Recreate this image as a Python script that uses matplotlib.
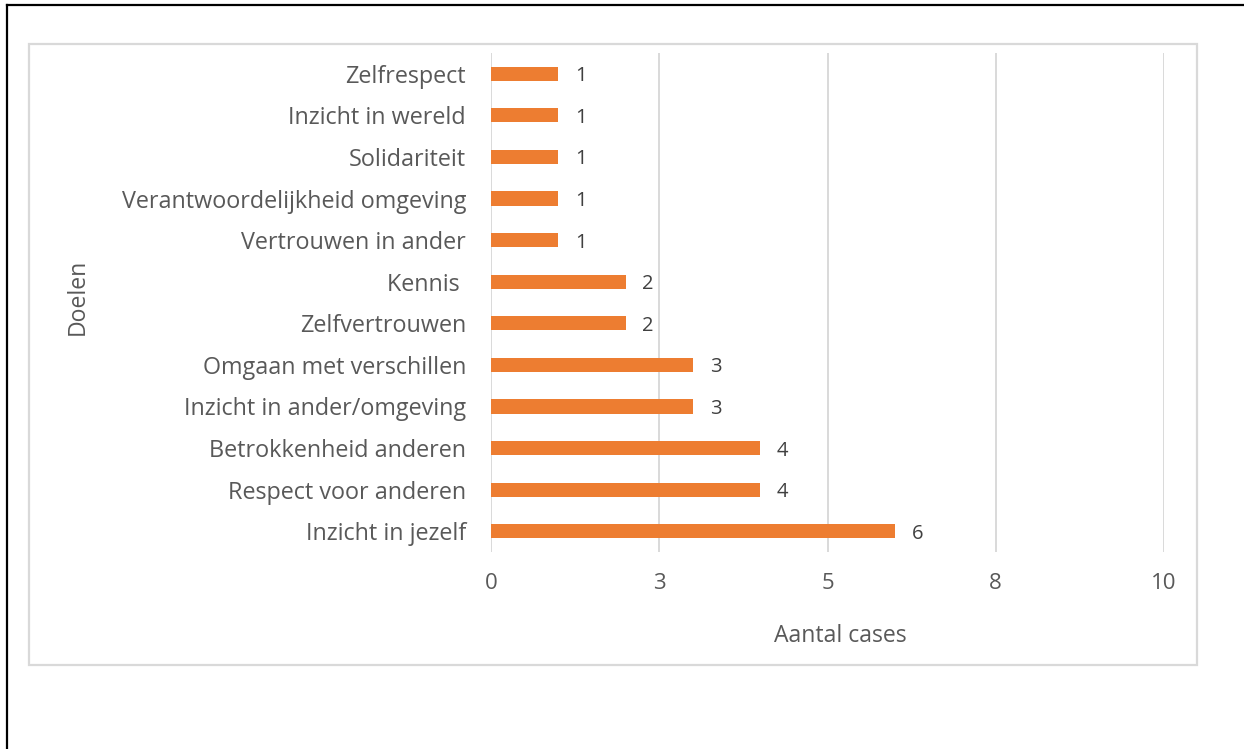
"""Horizontal bar chart: doelen per aantal cases."""

import matplotlib

matplotlib.use("Agg")

import matplotlib.pyplot as plt
from matplotlib.lines import Line2D
from matplotlib.patches import Rectangle
from matplotlib.ticker import FuncFormatter, MultipleLocator

# bottom to top, as drawn
CATEGORIES = [
    "Inzicht in jezelf",
    "Respect voor anderen",
    "Betrokkenheid anderen",
    "Inzicht in ander/omgeving",
    "Omgaan met verschillen",
    "Zelfvertrouwen",
    "Kennis ",
    "Vertrouwen in ander",
    "Verantwoordelijkheid omgeving",
    "Solidariteit",
    "Inzicht in wereld",
    "Zelfrespect",
]
VALUES = [6, 4, 4, 3, 3, 2, 2, 1, 1, 1, 1, 1]

BAR_COLOR = "#ED7D31"
TEXT_COLOR = "#595959"
LABEL_COLOR = "#404040"
GRID_COLOR = "#D9D9D9"
W, H = 1244, 749

plt.rcParams["font.family"] = ["Open Sans", "DejaVu Sans"]


def _round_half_up(x, _pos):
    return str(int(x + 0.5)) if x >= 0 else str(int(x - 0.5))


def main() -> None:
    fig = plt.figure(figsize=(W / 100, H / 100), dpi=100)
    ax = fig.add_axes([491 / W, 1 - 552 / H, (1164 - 491) / W, (552 - 53) / H])

    y = range(len(CATEGORIES))
    ax.barh(y, VALUES, height=0.34, color=BAR_COLOR, zorder=3)
    for yi, v in zip(y, VALUES):
        ax.annotate(str(v), (v, yi), xytext=(12, 0), textcoords="offset points",
                    va="center_baseline", ha="left", fontsize=14.5, color=LABEL_COLOR)

    ax.set_xlim(0, 10)
    ax.set_ylim(-0.5, len(CATEGORIES) - 0.5)
    ax.xaxis.set_major_locator(MultipleLocator(2.5))
    ax.xaxis.set_major_formatter(FuncFormatter(_round_half_up))
    ax.set_yticks(list(y))
    ax.set_yticklabels(CATEGORIES)
    ax.tick_params(axis="both", length=0, labelcolor=TEXT_COLOR)
    ax.tick_params(axis="x", pad=15, labelsize=16)
    ax.tick_params(axis="y", pad=18, labelsize=16.8)
    ax.grid(axis="x", color=GRID_COLOR, linewidth=1.4, zorder=0)
    for side in ax.spines.values():
        side.set_visible(False)

    fig.text(840 / W, 1 - 636 / H, "Aantal cases", ha="center", va="center",
             fontsize=16.6, color=TEXT_COLOR)
    fig.text(78 / W, 1 - 297 / H, "Doelen", ha="center", va="center",
             rotation=90, fontsize=16.6, color=TEXT_COLOR)

    # chart area border and page frame
    fig.add_artist(Rectangle((29 / W, 1 - 665 / H), (1197 - 29) / W, (665 - 44) / H,
                             transform=fig.transFigure, fill=False,
                             edgecolor=GRID_COLOR, linewidth=1.6))
    fig.add_artist(Line2D([7 / W, 7 / W], [0, 1 - 4.5 / H], transform=fig.transFigure,
                          color="black", linewidth=1.6))
    fig.add_artist(Line2D([7 / W, 1], [1 - 4.5 / H, 1 - 4.5 / H], transform=fig.transFigure,
                          color="black", linewidth=1.6))

    fig.savefig("out.png", dpi=100)
    plt.close(fig)


if __name__ == "__main__":
    main()
